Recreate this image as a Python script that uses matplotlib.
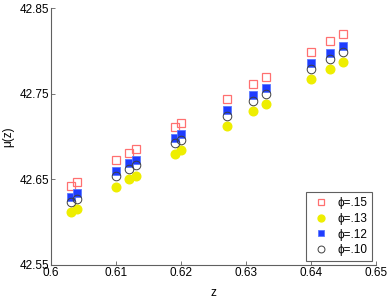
import matplotlib.pyplot as plt

plt.rcParams['font.family'] = ['Liberation Sans', 'DejaVu Sans']

z = [0.603, 0.604, 0.610, 0.612, 0.613, 0.619, 0.620, 0.627, 0.631, 0.633, 0.640, 0.643, 0.645]

mu_15 = [42.642, 42.6465, 42.6726, 42.6807, 42.6854, 42.7107, 42.7154, 42.7438, 42.7613, 42.7698, 42.7982, 42.8111, 42.8193]
mu_13 = [42.6115, 42.6154, 42.6414, 42.650, 42.6543, 42.680, 42.6839, 42.7123, 42.7301, 42.7383, 42.7668, 42.7792, 42.7873]
mu_12 = [42.6297, 42.6344, 42.6597, 42.6687, 42.673, 42.6979, 42.7026, 42.731, 42.7484, 42.7563, 42.7855, 42.7979, 42.806]
mu_10 = [42.6236, 42.6274, 42.6539, 42.6617, 42.6664, 42.692, 42.6959, 42.7243, 42.7418, 42.7496, 42.7784, 42.7905, 42.7986]

labels = ['ϕ=.15', 'ϕ=.13', 'ϕ=.12', 'ϕ=.10']
xticks = [0.6, 0.61, 0.62, 0.63, 0.64, 0.65]
yticks = [42.55, 42.65, 42.75, 42.85]

fig = plt.figure(figsize=(3.9, 3.0), dpi=100)
ax = fig.add_axes([0.131, 0.117, 0.833, 0.856])

# marker series
ax.plot(z, mu_15, 's', ms=5.2, mfc='none', mec='#ff7070', mew=0.9, label=labels[0])
ax.plot(z, mu_13, 'o', ms=6.2, mfc='#eeee00', mec='#eeee00', label=labels[1])
ax.plot(z, mu_12, 's', ms=5.2, mfc='#1f3cff', mec='#5a78ff', mew=0.6, label=labels[2])
ax.plot(z, mu_10, 'o', ms=6.2, mfc='none', mec='#404040', mew=0.7, label=labels[3])

ax.set_xlim(0.6, 0.65)
ax.set_ylim(42.55, 42.85)
ax.set_xticks(xticks)
ax.set_xticklabels(['0.6', '0.61', '0.62', '0.63', '0.64', '0.65'])
ax.set_yticks(yticks)
ax.set_yticklabels(['42.55', '42.65', '42.75', '42.85'])

for s in ['top', 'right']:
    ax.spines[s].set_visible(False)
for s in ['left', 'bottom']:
    ax.spines[s].set_color('#606060')
    ax.spines[s].set_linewidth(0.8)
ax.tick_params(direction='in', length=3, width=0.6, color='#606060', labelsize=8.5, pad=1.5)

ax.set_xlabel('z', fontsize=8.5, labelpad=6)
ax.set_ylabel('μ(z)', fontsize=8.5, labelpad=4)

leg = ax.legend(loc='lower right', fontsize=8.5, fancybox=False, framealpha=1,
                edgecolor='#606060', borderaxespad=0.3, handletextpad=0.6,
                labelspacing=0.3, borderpad=0.45, handlelength=1.6, markerscale=0.8)
leg.get_frame().set_linewidth(0.8)

fig.savefig('out.png', dpi=100)
